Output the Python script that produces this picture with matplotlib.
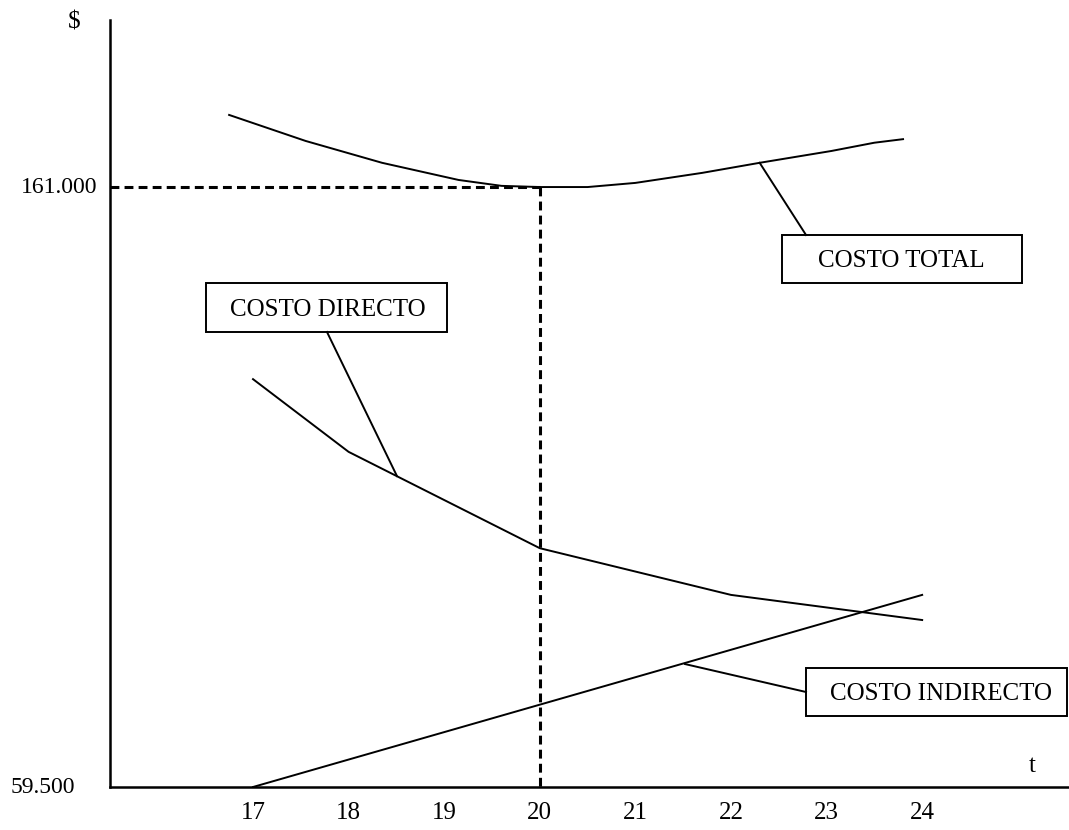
import matplotlib.pyplot as plt
from matplotlib.patches import Rectangle

plt.rcParams['font.family'] = ['Liberation Serif', 'DejaVu Serif']
plt.rcParams['font.size'] = 18

# costo total
t_total = [16.75, 17.55, 18.35, 19.15, 19.6, 20.0, 20.5, 21.0, 21.7, 22.3, 23.05, 23.5, 23.8]
v_total = [173200, 168800, 165100, 162200, 161200, 161000, 161000, 161700, 163400, 165100, 167100, 168500, 169100]

# costo directo
t_directo = [17, 18, 20, 22, 24]
v_directo = [128500, 116200, 99900, 92000, 87750]

# costo indirecto
t_indirecto = [17, 24]
v_indirecto = [59500, 92000]

t_optimo = 20
v_optimo = 161000
v_min = 59500
x_ticks = [17, 18, 19, 20, 21, 22, 23, 24]

fig = plt.figure(figsize=(10.69, 8.30), dpi=100)
ax = fig.add_axes([110 / 1069, 43 / 830, 959 / 1069, 767 / 830])
ax.set_xlim(15.504, 25.536)
ax.set_ylim(59500, 189260)

lw = 1.4
ax.plot(t_total, v_total, color='black', lw=lw)
ax.plot(t_directo, v_directo, color='black', lw=lw)
ax.plot(t_indirecto, v_indirecto, color='black', lw=lw)

# dashed guides at the optimum
dash = (0, (2.9, 1.7))
ax.plot([15.504, t_optimo], [v_optimo, v_optimo], color='black', lw=2.2, linestyle=dash)
ax.plot([t_optimo, t_optimo], [v_optimo, v_min], color='black', lw=2.2, linestyle=dash)

# label boxes with leader lines
def label_box(text, x0, y0, x1, y1, tx):
    ax.add_patch(Rectangle((x0, y0), x1 - x0, y1 - y0, fill=False, lw=1.4,
                           edgecolor='black', clip_on=False))
    ax.text(tx, (y0 + y1) / 2 - 400, text, ha='left', va='center', clip_on=False)

label_box('COSTO TOTAL', 22.533, 144767, 25.044, 152887, 22.91)
ax.plot([22.3, 22.785], [165100, 152887], color='black', lw=lw)

label_box('COSTO DIRECTO', 16.508, 136477, 19.029, 144767, 16.76)
ax.plot([17.774, 18.506], [136477, 112100], color='black', lw=lw)

label_box('COSTO INDIRECTO', 22.785, 71512, 25.52, 79632, 23.04)
ax.plot([21.519, 22.785], [80300, 75572], color='black', lw=lw)

for s in ['top', 'right']:
    ax.spines[s].set_visible(False)
for s in ['left', 'bottom']:
    ax.spines[s].set_linewidth(1.8)

ax.set_xticks(x_ticks)
ax.set_xticklabels([str(x) for x in x_ticks])
ax.tick_params(axis='x', length=0, pad=11)
ax.set_yticks([])

ax.text(15.368, v_optimo, '161.000', ha='right', va='center', fontsize=17)
ax.text(15.138, v_min, '59.500', ha='right', va='center', fontsize=17)
ax.text(15.13, 188900, '$', ha='center', va='center')
ax.text(25.15, 63050, 't', ha='center', va='center')

fig.savefig('out.png', dpi=100)
